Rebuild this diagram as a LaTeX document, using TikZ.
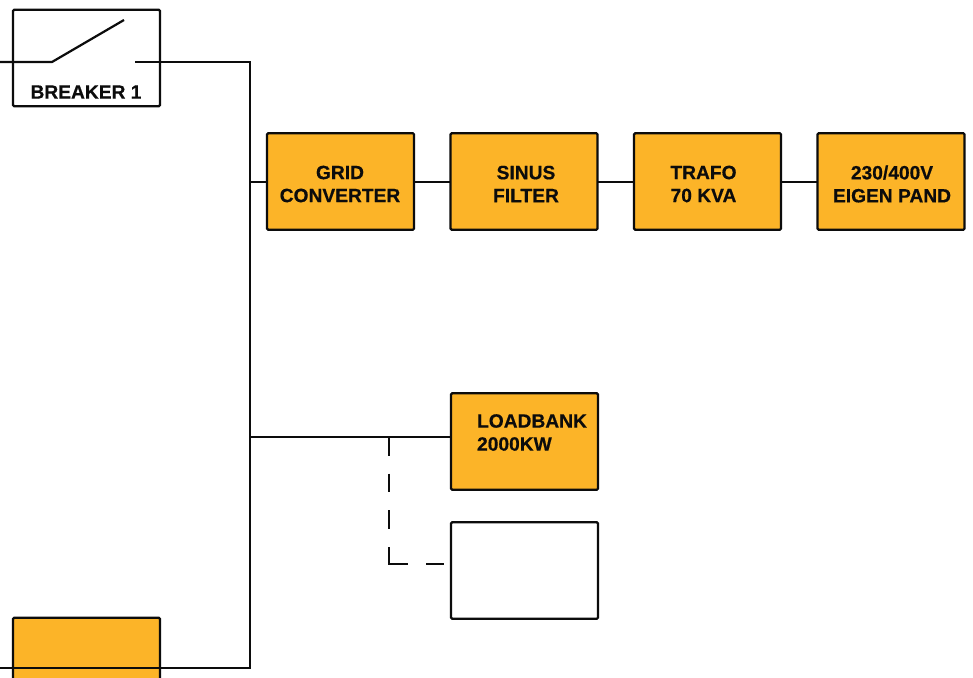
\documentclass[tikz,border=0pt]{standalone}
\usepackage{fontspec}
\setmainfont[BoldFeatures={FakeBold=0.5}]{Liberation Sans}
\usetikzlibrary{calc}
\definecolor{boxorange}{RGB}{252,180,40}
\definecolor{ink}{RGB}{12,12,12}
\tikzset{
  x=1pt,y=-1pt,
  box/.style={draw=ink,line width=2.2pt,rounded corners=1.2pt,minimum width=147pt,minimum height=96.5pt,inner sep=0pt,outer sep=0pt},
  filled/.style={box,fill=boxorange},
  lbl/.style={font=\fontsize{19.2}{23}\selectfont\bfseries,text=ink,align=center,inner sep=0pt},
  wire/.style={draw=ink,line width=2.2pt,line join=miter},
  dashwire/.style={draw=ink,line width=2.4pt,line join=miter,dash pattern=on 18.5pt off 18pt on 18.5pt off 18pt on 18.5pt off 18.5pt on 36pt off 18pt on 18.5pt off 40pt}
}
\begin{document}
\begin{tikzpicture}
\useasboundingbox (0,0) rectangle (973,677);
\clip (0,0) rectangle (973,677);
\fill[white] (0,0) rectangle (973,677);
% boxes
\node[box,fill=white] (breaker) at (86.5,58) {};
\node[lbl] (breakertext) at (86,92) {BREAKER 1};
\node[filled] (grid) at (340.5,181.5) {};
\node[lbl] (gridtext) at (340,184) {GRID\\CONVERTER};
\node[filled] (sinus) at (524,181.5) {};
\node[lbl] (sinustext) at (526,184) {SINUS\\FILTER};
\node[filled] (trafo) at (707.5,181.5) {};
\node[lbl] (trafotext) at (703.5,184) {TRAFO\\70 KVA};
\node[filled] (pand) at (891,181.5) {};
\node[lbl] (pandtext) at (892,184) {230/400V\\EIGEN PAND};
\node[filled] (loadbank) at (524.5,441.5) {};
\node[lbl,align=left] (loadtext) at (532,432.5) {LOADBANK\\2000KW};
\node[box,fill=white] (spare) at (524.5,570.5) {};
\node[filled] (source) at (86.5,666) {};
% free ends
\coordinate (inL) at (0,62);
\coordinate (swA) at (52,62);
\coordinate (swB) at (124,20);
\coordinate (swC) at (135,62);
\coordinate (busT) at (250,62);
\coordinate (busB) at (250,668);
\coordinate (outL) at (0,668);
\coordinate (busG) at (250,182);
\coordinate (busL) at (250,437);
\coordinate (tap) at (389,437);
\coordinate (tapC) at (389,564);
\coordinate (tapE) at (443.5,564);
% connectors
\draw[wire] (inL) -- (swA) -- (swB);
\draw[wire] (swC) -- (busT) -- (busB) -- (outL);
\draw[wire] (busG) -- (grid.west |- busG);
\draw[wire] (grid.east |- busG) -- (sinus.west |- busG);
\draw[wire] (sinus.east |- busG) -- (trafo.west |- busG);
\draw[wire] (trafo.east |- busG) -- (pand.west |- busG);
\draw[wire] (busL) -- (loadbank.west |- busL);
\draw[dashwire] (tap) -- (tapC) -- (tapE);
\end{tikzpicture}
\end{document}
